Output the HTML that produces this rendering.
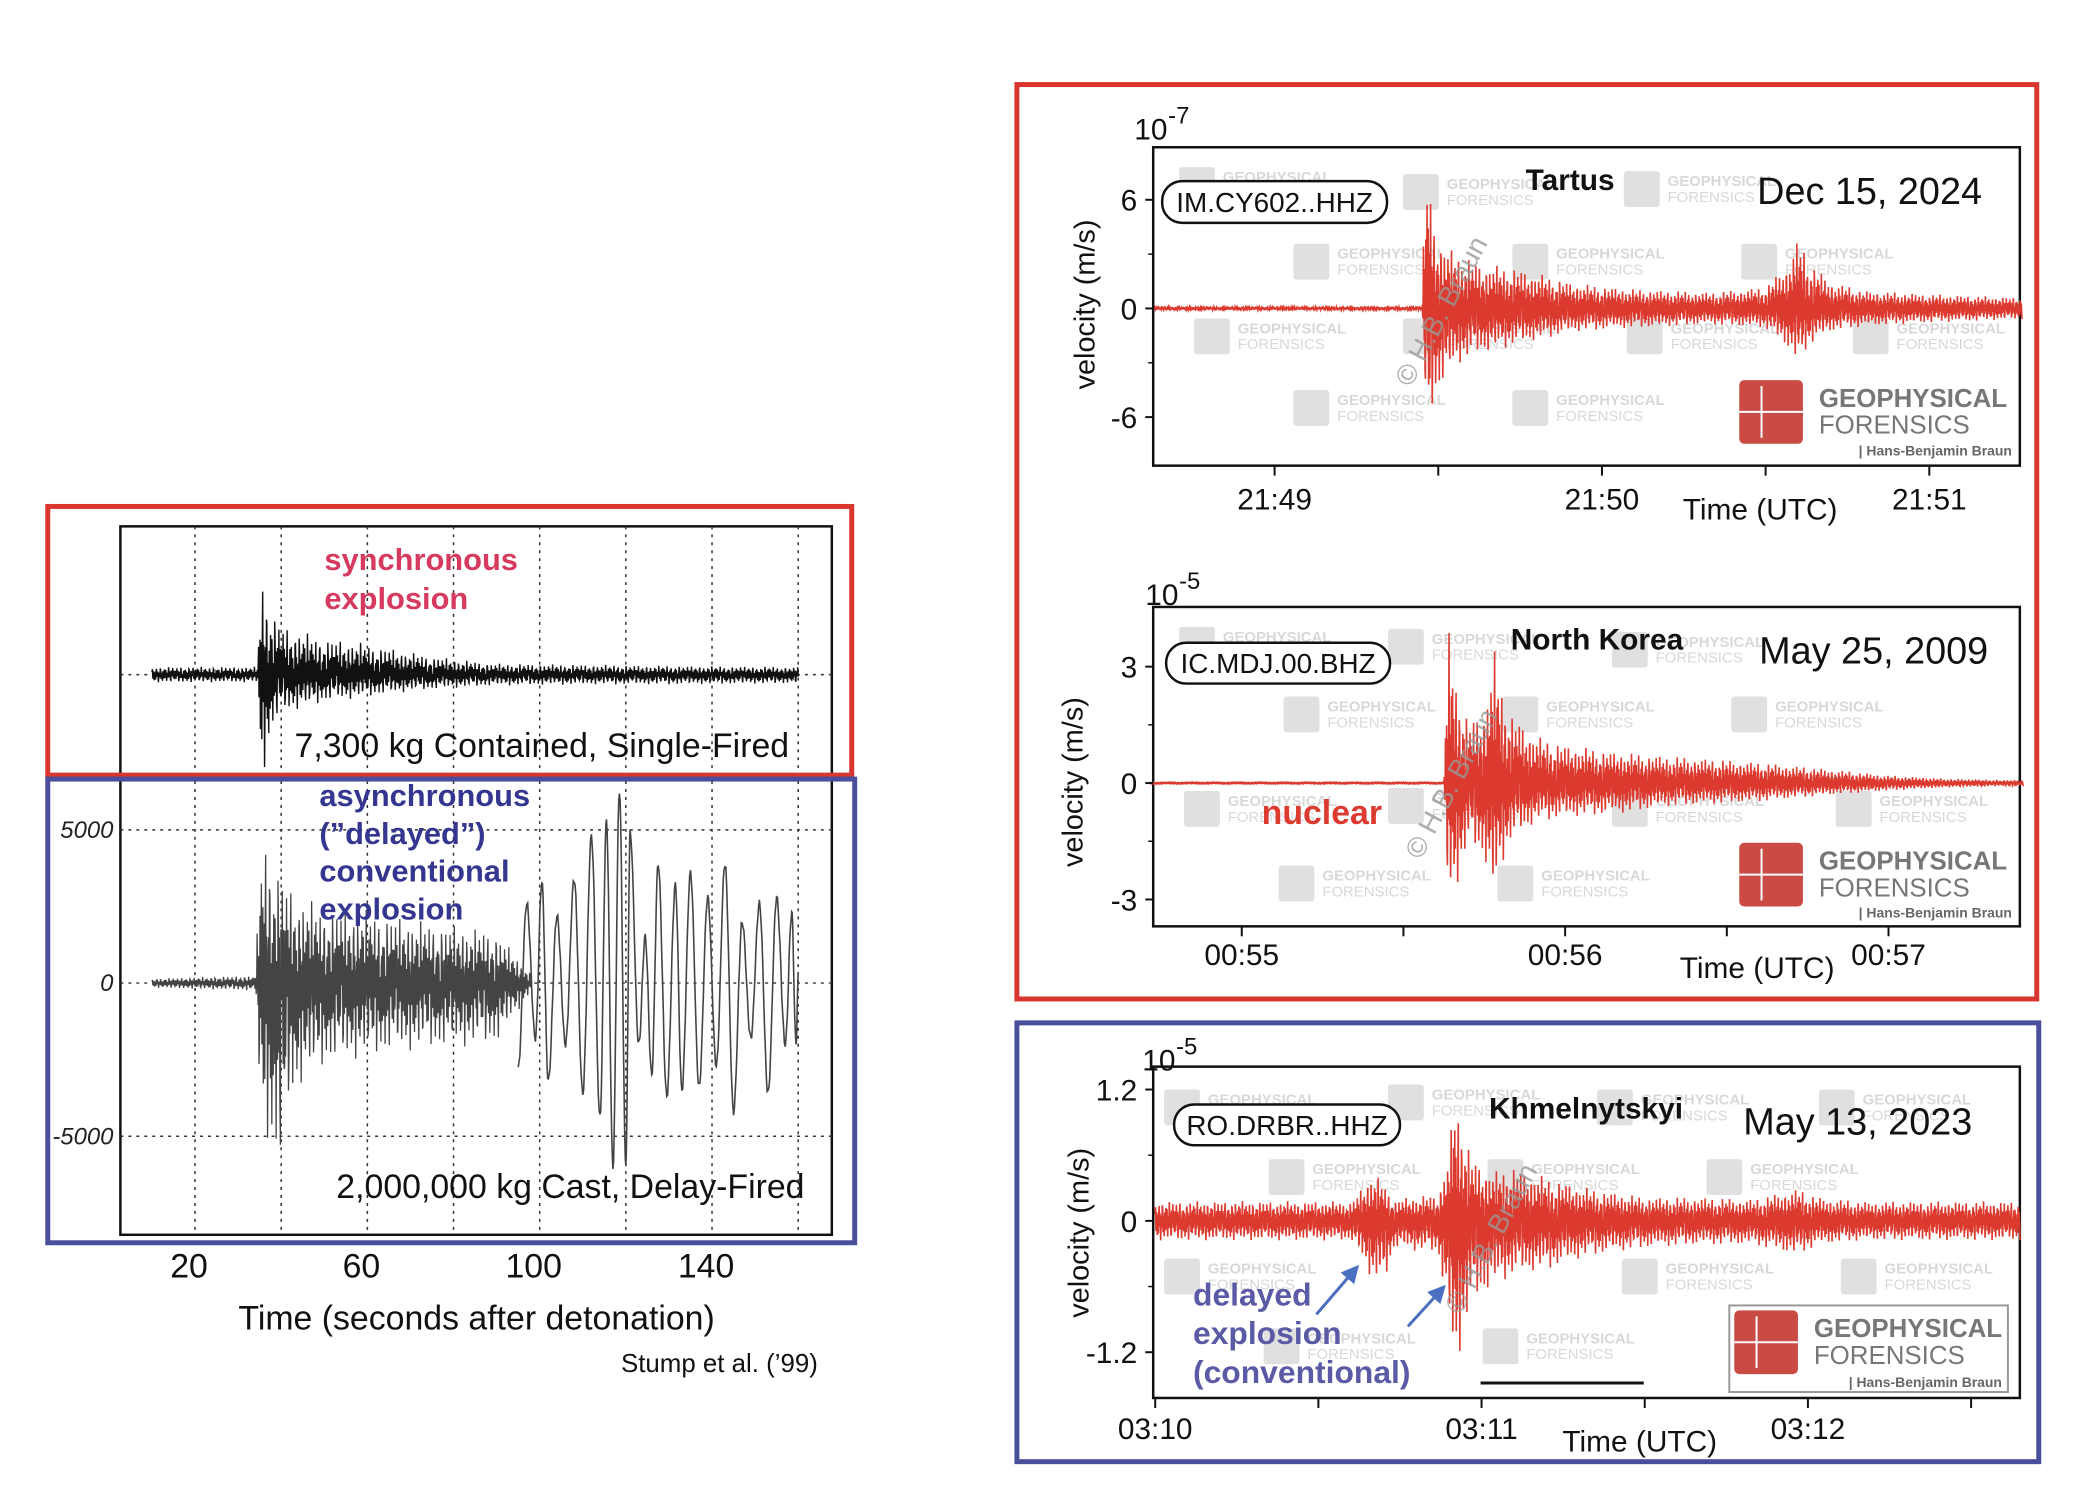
<!DOCTYPE html>
<html><head><meta charset="utf-8">
<style>
html,body{margin:0;padding:0;background:#fff;}
svg{display:block;font-family:"Liberation Sans",sans-serif;}
</style></head>
<body>
<svg id="root" width="2078" height="1490" viewBox="0 0 2078 1490">
<g id="fig" transform="scale(0.995)">
<g id="left"></g>
<g id="tartus"></g>
<g id="nk"></g>
<g id="khm"></g>
</g>
</svg>
<script>
// ===== data =====
const stTopT = [10,34.5,35,35.6,36.5,38,40,45,50,60,70,80,90,110,130,160];
const stTopUp = [0.07,0.07,0.6,0.95,0.7,0.55,0.45,0.38,0.33,0.28,0.2,0.14,0.1,0.09,0.08,0.07];
const stTopDn = [0.07,0.07,0.6,1.0,0.75,0.5,0.35,0.3,0.25,0.2,0.15,0.12,0.1,0.09,0.09,0.08];
const stBotT = [10,34,35,36,37,38,40,42,45,50,60,70,80,90,95,98];
const stBotUp = [150,250,3500,5600,4500,3800,3600,3200,2800,2500,2400,2100,1900,1700,800,300];
const stBotDn = [150,250,3800,5000,5200,5800,6500,4000,3200,2700,2400,2200,2100,2000,900,300];
const lpT = [95,97,99,100.5,102,104,106,108,110,112,114,115.5,117,118.5,120,121,123,124.5,126,127.5,129.5,131.5,133,135,137,139,141,143,145,147,149,151,153,155,157,158.5,159.5,160];
const lpV = [-2800,2600,-1800,3300,-3200,2200,-2000,3400,-3600,4800,-4400,5300,-6000,6300,-5900,4900,-2000,1500,-3000,3900,-3700,3200,-3500,3600,-3400,2800,-2700,3900,-4200,2000,-1800,2600,-3600,2800,-2000,2300,-2000,200];
const stXTicks = [20,60,100,140];
const stYTicks = [5000,0,-5000];

const tarT = [-22,27,27.5,28.2,29,31,34,38,45,55,65,80,90,94,96,98,102,108,120,137];
const tarUp = [0.1,0.1,6,8,5,3.5,3,2.5,2.2,1.4,1.1,0.9,1.2,2.5,4,2.6,1.5,1,0.8,0.6];
const tarDn = [0.1,0.1,5,7.8,5.5,4,3,2.5,2,1.3,1.1,0.9,1.1,2.2,3.2,2,1.3,1,0.8,0.6];
const tarXTicks = ['21:49','21:50','21:51'];
const tarYTicks = [6,0,-6];

const nkT = [-17,37.5,38,38.5,40,42,45,47,48,50,55,60,70,80,95,110,120,130,140];
const nkUp = [0.02,0.02,2.5,4.1,2.5,1.6,2,3.5,2.6,1.8,1.2,1,0.8,0.7,0.55,0.35,0.2,0.12,0.08];
const nkDn = [0.02,0.02,2.5,3.3,2.6,1.6,2,3.1,2.2,1.5,1.0,0.9,0.8,0.6,0.5,0.3,0.2,0.12,0.08];
const nkXTicks = ['00:55','00:56','00:57'];
const nkYTicks = [3,0,-3];

const khT = [0,36,38,40,42,44,52,54,55,56,58,62,66,72,80,90,100,110,118,122,130,159];
const khUp = [0.18,0.18,0.3,0.45,0.35,0.2,0.25,0.6,1.18,1.0,0.6,0.45,0.5,0.4,0.3,0.22,0.22,0.2,0.3,0.22,0.18,0.18];
const khDn = [0.18,0.18,0.35,0.55,0.6,0.25,0.3,0.9,1.5,1.2,0.8,0.6,0.5,0.45,0.32,0.25,0.22,0.22,0.32,0.22,0.18,0.18];
const khXTicks = ['03:10','03:11','03:12'];
const khYTicks = ['1.2','0','-1.2'];
const khYVals = [1.2,0,-1.2];

const NS='http://www.w3.org/2000/svg';
function mk(parent,tag,attrs,text){const e=document.createElementNS(NS,tag);for(const k in attrs)e.setAttribute(k,attrs[k]);if(text!==undefined)e.textContent=text;parent.appendChild(e);return e;}
function interp(ts,vs,t){if(t<=ts[0])return vs[0];for(let i=1;i<ts.length;i++){if(t<=ts[i]){const f=(t-ts[i-1])/(ts[i]-ts[i-1]);return vs[i-1]+f*(vs[i]-vs[i-1]);}}return vs[vs.length-1];}
function wig(i){return 0.55*Math.sin(i*2.13)+0.3*Math.sin(i*0.71+1)+0.15*Math.sin(i*5.3);}
function tracePath(ts,up,dn,t0,t1,n,xs,ys){let d='';for(let i=0;i<=n;i++){const t=t0+(t1-t0)*i/n;let s=wig(i);s=s>0?Math.pow(s,0.8):-Math.pow(-s,0.8);const v=s>=0?s*interp(ts,up,t):s*interp(ts,dn,t);d+=(i?'L':'M')+xs(t).toFixed(1)+' '+ys(v).toFixed(1);}return d;}

const L=document.getElementById('left');
const sx=t=>196+(t-20)*4.33;
const syTop=v=>678-v*112;
const syBot=v=>988-v*(154/5000);
mk(L,'rect',{x:121,y:529,width:715,height:712,fill:'none',stroke:'#111','stroke-width':2.5});
for(let t=20;t<=160;t+=20){const g=mk(L,'line',{x1:sx(t),x2:sx(t),y1:529,y2:1241,stroke:'#333','stroke-width':1.5,'stroke-dasharray':'3 5'});}
[678,...stYTicks.map(syBot)].forEach(y=>{const g=mk(L,'line',{x1:121,x2:836,y1:y,y2:y,stroke:'#333','stroke-width':1.5,'stroke-dasharray':'3 5'});});
let p=mk(L,'path',{d:tracePath(stTopT,stTopUp,stTopDn,10,160,1400,sx,syTop),fill:'none',stroke:'#111','stroke-width':1.4});

p=mk(L,'path',{d:tracePath(stBotT,stBotUp,stBotDn,10,stBotT[stBotT.length-1],800,sx,syBot),fill:'none',stroke:'#444','stroke-width':1.3});

{let d='';for(let i=0;i<lpT.length-1;i++){for(let k=0;k<=10;k++){const f=k/10;const t=lpT[i]+(lpT[i+1]-lpT[i])*f;const w=(1-Math.cos(Math.PI*f))/2;const v=lpV[i]+(lpV[i+1]-lpV[i])*w+120*Math.sin(t*9);d+=(d?'L':'M')+sx(t).toFixed(1)+' '+syBot(v).toFixed(1);}}
p=mk(L,'path',{d:d,fill:'none',stroke:'#444','stroke-width':1.6});}
stYTicks.forEach(v=>{const t=mk(L,'text',{x:114,y:syBot(v)+8,'text-anchor':'end','font-size':24,'font-style':'italic',fill:'#222'},String(v));});
stXTicks.forEach(v=>{const t=mk(L,'text',{x:sx(v)-6,y:1284,'text-anchor':'middle','font-size':34,fill:'#111'},String(v));});
</script>
<script>
(function(){
const L=document.getElementById('left');
function T(x,y,s,txt,name,extra){const e=document.createElementNS('http://www.w3.org/2000/svg','text');e.setAttribute('x',x);e.setAttribute('y',y);e.setAttribute('font-size',s);for(const k in (extra||{}))e.setAttribute(k,extra[k]);e.textContent=txt;L.appendChild(e);}
T(479,1336,34,'Time (seconds after detonation)','stump-x-axis-title',{'text-anchor':'middle',fill:'#111'});
T(822,1379,26,'Stump et al. (’99)','stump-citation',{'text-anchor':'end',fill:'#111'});
T(326,573,31,'synchronous','synchronous-label',{'font-weight':'bold',fill:'#d63a5e'});
T(326,612,31,'explosion','synchronous-label-2',{'font-weight':'bold',fill:'#d63a5e'});
T(296,761,34,'7,300 kg Contained, Single-Fired','single-fired-caption',{fill:'#111'});
T(338,1204,34,'2,000,000 kg Cast, Delay-Fired','delay-fired-caption',{fill:'#111'});
['asynchronous','(”delayed”)','conventional','explosion'].forEach((s,i)=>T(321,810+i*38,31,s,'asynchronous-label',{'font-weight':'bold',fill:'#34368f'}));
const r1=document.createElementNS('http://www.w3.org/2000/svg','rect');
[['x',48],['y',509],['width',808],['height',270],['fill','none'],['stroke','#d9362f'],['stroke-width',5]].forEach(a=>r1.setAttribute(a[0],a[1]));
L.appendChild(r1);
const r2=document.createElementNS('http://www.w3.org/2000/svg','rect');
[['x',48],['y',783],['width',811],['height',466],['fill','none'],['stroke','#4a4f9c'],['stroke-width',5]].forEach(a=>r2.setAttribute(a[0],a[1]));
L.appendChild(r2);
})();
</script>
<script>
function panel(gid,cfg){
 const G=document.getElementById(gid);
 const fx=cfg.fx0,fx1=cfg.fx1,fy0=cfg.fy0,fy1=cfg.fy1;
 const xs=t=>cfg.x0+t*cfg.pxPerMin/60;
 const ys=v=>cfg.y0-v*cfg.pxPerUnit;
 cfg.wm.forEach(w=>{
  const g=mk(G,'g',{opacity:0.45});
  
  
  mk(g,'rect',{x:w[0],y:w[1],width:36,height:36,fill:'#bbb',rx:3});
  mk(g,'text',{x:w[0]+44,y:w[1]+15,'font-size':15,'font-weight':'bold',fill:'#aaa'},'GEOPHYSICAL');
  mk(g,'text',{x:w[0]+44,y:w[1]+31,'font-size':15,fill:'#aaa'},'FORENSICS');
 });
 mk(G,'rect',{x:fx,y:fy0,width:fx1-fx,height:fy1-fy0,fill:'none',stroke:'#111','stroke-width':2.5});
 const tr=mk(G,'path',{d:tracePath(cfg.T,cfg.up,cfg.dn,cfg.t0,cfg.t1,2200,xs,ys),fill:'none',stroke:'#dc3a2f','stroke-width':1.6});
 
 
 for(let k=-0.5;k<=2.5;k+=0.5){const x=xs(k*60);if(x<fx||x>fx1)continue;const l=mk(G,'line',{x1:x,x2:x,y1:fy1,y2:fy1+10,stroke:'#111','stroke-width':2});}
 cfg.xl.forEach((s,i)=>{const t=mk(G,'text',{x:xs(i*60),y:cfg.xly,'text-anchor':'middle','font-size':cfg.fs,fill:'#111'},s);});
 cfg.yv.forEach((v,i)=>{const y=ys(v);const l=mk(G,'line',{x1:fx-8,x2:fx,y1:y,y2:y,stroke:'#111','stroke-width':2});
  const t=mk(G,'text',{x:fx-16,y:y+11,'text-anchor':'end','font-size':cfg.fs,fill:'#111'},cfg.yl[i]);
  if(i<cfg.yv.length-1){const ym=ys((v+cfg.yv[i+1])/2);const m=mk(G,'line',{x1:fx-5,x2:fx,y1:ym,y2:ym,stroke:'#111','stroke-width':1.5});}});
 let t=mk(G,'text',{x:cfg.expx,y:cfg.expy,'font-size':30,fill:'#111'},'10');
 t=mk(G,'text',{x:cfg.expx+34,y:cfg.expy-16,'font-size':24,fill:'#111'},cfg.exp);
 t=mk(G,'text',{x:cfg.vx,y:cfg.vy,'text-anchor':'middle','font-size':29,fill:'#111',transform:`rotate(-90 ${cfg.vx} ${cfg.vy})`},'velocity (m/s)');
 t=mk(G,'text',{x:cfg.tux,y:cfg.tuy,'text-anchor':'middle','font-size':30,fill:'#111'},'Time (UTC)');
 const sb=mk(G,'rect',{x:cfg.sb[0],y:cfg.sb[1],width:cfg.sb[2],height:cfg.sb[3],rx:20,fill:'#fff',stroke:'#111','stroke-width':2.5});
 t=mk(G,'text',{x:cfg.sb[0]+cfg.sb[2]/2,y:cfg.sb[1]+cfg.sb[3]/2+10,'text-anchor':'middle','font-size':28,fill:'#111'},cfg.station);
 t=mk(G,'text',{x:cfg.loc[0],y:cfg.loc[1],'text-anchor':'middle','font-size':30,'font-weight':'bold',fill:'#111'},cfg.locName);
 t=mk(G,'text',{x:cfg.date[0],y:cfg.date[1],'font-size':38,fill:'#111'},cfg.dateText);
 const lg=mk(G,'g',{});
 if(cfg.logoBox)mk(lg,'rect',{x:cfg.logoBox[0],y:cfg.logoBox[1],width:cfg.logoBox[2],height:cfg.logoBox[3],fill:'#fff',stroke:'#999','stroke-width':2});
 const [lx,ly,ls]=cfg.logo;
 mk(lg,'rect',{x:lx,y:ly,width:ls,height:ls,rx:5,fill:'#c94b44'});
 mk(lg,'line',{x1:lx,x2:lx+ls,y1:ly+ls/2,y2:ly+ls/2,stroke:'#fff','stroke-width':2});
 mk(lg,'line',{x1:lx+ls*0.35,x2:lx+ls*0.35,y1:ly+6,y2:ly+ls-6,stroke:'#fff','stroke-width':2});
 mk(lg,'text',{x:lx+ls+16,y:ly+ls*0.42,'font-size':26,'font-weight':'bold',fill:'#777'},'GEOPHYSICAL');
 mk(lg,'text',{x:lx+ls+16,y:ly+ls*0.84,'font-size':26,fill:'#777'},'FORENSICS');
 mk(lg,'text',{x:cfg.hb[0],y:cfg.hb[1],'text-anchor':'end','font-size':14,'font-weight':'bold',fill:'#666'},'| Hans-Benjamin Braun');
 t=mk(G,'text',{x:cfg.cp[0],y:cfg.cp[1],'font-size':28,fill:'#999',opacity:0.8,transform:`rotate(-62 ${cfg.cp[0]} ${cfg.cp[1]})`},'© H.B. Braun');
 return G;
}
panel('tartus',{fx0:1159,fx1:2030,fy0:148,fy1:468,x0:1281,pxPerMin:329,y0:310,pxPerUnit:18.2,
 T:tarT,up:tarUp,dn:tarDn,t0:-22,t1:137,xl:tarXTicks,xly:512,fs:30,yv:tarYTicks,yl:tarYTicks.map(String),
 expx:1140,expy:140,exp:'-7',vx:1100,vy:306,tux:1769,tuy:522,sb:[1168,182,226,42],station:'IM.CY602..HHZ',
 loc:[1578,191],locName:'Tartus',date:[1766,205],dateText:'Dec 15, 2024',logo:[1748,382,64],hb:[2022,458],cp:[1418,390],
 wm:[[1185,168],[1410,175],[1632,172],[1300,245],[1520,245],[1750,245],[1200,320],[1410,320],[1635,320],[1862,320],[1300,392],[1520,392]]});
panel('nk',{fx0:1159,fx1:2030,fy0:610,fy1:931,x0:1248,pxPerMin:325,y0:787,pxPerUnit:39,
 T:nkT,up:nkUp,dn:nkDn,t0:-17,t1:145,xl:nkXTicks,xly:970,fs:30,yv:nkYTicks,yl:nkYTicks.map(String),
 expx:1151,expy:608,exp:'-5',vx:1088,vy:786,tux:1766,tuy:983,sb:[1172,646,225,41],station:'IC.MDJ.00.BHZ',
 loc:[1605,653],locName:'North Korea',date:[1768,667],dateText:'May 25, 2009',logo:[1748,847,64],hb:[2022,922],cp:[1428,865],
 wm:[[1185,630],[1395,632],[1620,635],[1290,700],[1510,700],[1740,700],[1190,795],[1395,792],[1620,795],[1845,795],[1285,870],[1505,870]]});
panel('khm',{fx0:1159,fx1:2030,fy0:1072,fy1:1405,x0:1161,pxPerMin:328,y0:1227,pxPerUnit:110,
 T:khT,up:khUp,dn:khDn,t0:0,t1:159,xl:khXTicks,xly:1446,fs:30,yv:khYVals,yl:khYTicks,
 expx:1148,expy:1076,exp:'-5',vx:1094,vy:1239,tux:1648,tuy:1459,sb:[1180,1110,227,41],station:'RO.DRBR..HHZ',
 loc:[1594,1124],locName:'Khmelnytskyi',date:[1752,1140],dateText:'May 13, 2023',logo:[1743,1317,64],logoBox:[1738,1312,280,87],hb:[2012,1394],cp:[1468,1322],
 wm:[[1170,1095],[1395,1090],[1605,1095],[1828,1095],[1275,1165],[1495,1165],[1715,1165],[1170,1265],[1630,1265],[1850,1265],[1270,1335],[1490,1335]]});
(function(){
 const N=document.getElementById('nk');
 let t=mk(N,'text',{x:1268,y:828,'font-size':34,'font-weight':'bold',fill:'#dc3a2f'},'nuclear');
 
 const K=document.getElementById('khm');
 ['delayed','explosion','(conventional)'].forEach((s,i)=>{const e=mk(K,'text',{x:1199,y:1312+i*39,'font-size':32,'font-weight':'bold',fill:'#5a5aa6'},s);});
 mk(K,'defs',{}).innerHTML='<marker id="ah" markerWidth="6" markerHeight="6" refX="3" refY="3" orient="auto"><path d="M0,0 L6,3 L0,6 z" fill="#4a6fc0"/></marker>';
 let a=mk(K,'line',{x1:1323,y1:1321,x2:1360,y2:1278,stroke:'#4a6fc0','stroke-width':3,'marker-end':'url(#ah)'});
 a=mk(K,'line',{x1:1415,y1:1333,x2:1447,y2:1298,stroke:'#4a6fc0','stroke-width':3,'marker-end':'url(#ah)'});
 a=mk(K,'line',{x1:1488,y1:1390,x2:1652,y2:1390,stroke:'#111','stroke-width':3});
 const F=document.getElementById('fig');
 let r=mk(F,'rect',{x:1022,y:85,width:1025,height:919,fill:'none',stroke:'#d9362f','stroke-width':5});
 r=mk(F,'rect',{x:1022,y:1028,width:1027,height:441,fill:'none',stroke:'#4a4f9c','stroke-width':5});
})();
</script>
</body></html>
